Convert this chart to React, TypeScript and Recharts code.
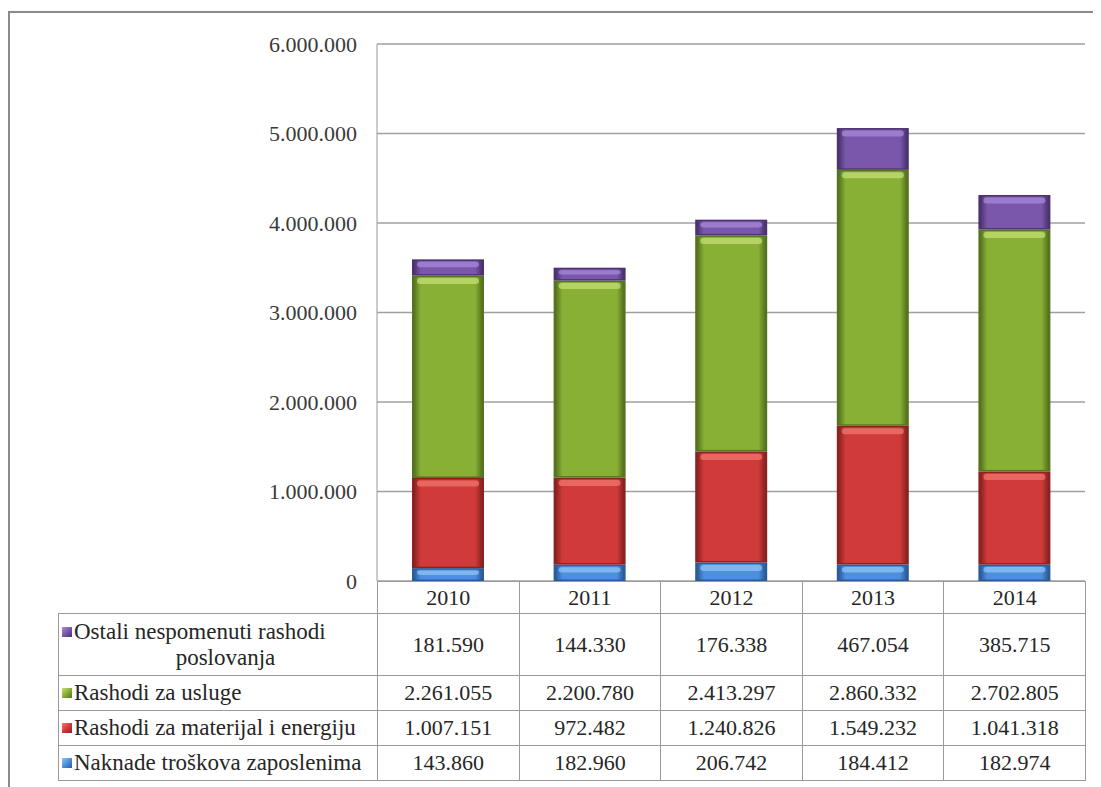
import React from "react";
import { BarChart, Bar, XAxis, YAxis, CartesianGrid } from "recharts";

const years = ["2010", "2011", "2012", "2013", "2014"];
const naknade = [143860, 182960, 206742, 184412, 182974];
const materijal = [1007151, 972482, 1240826, 1549232, 1041318];
const usluge = [2261055, 2200780, 2413297, 2860332, 2702805];
const ostali = [181590, 144330, 176338, 467054, 385715];
const yTicks = [0, 1000000, 2000000, 3000000, 4000000, 5000000, 6000000];

const seriesInfo = [
  { key: "ostali", label: "Ostali nespomenuti rashodi", label2: "poslovanja", values: ostali, main: "#7a57aa", light: "#ab8ddb", dark: "#4a3370" },
  { key: "usluge", label: "Rashodi za usluge", label2: "", values: usluge, main: "#87b035", light: "#c8e276", dark: "#56731f" },
  { key: "materijal", label: "Rashodi za materijal i energiju", label2: "", values: materijal, main: "#d03a3a", light: "#f27c72", dark: "#8a2222" },
  { key: "naknade", label: "Naknade troškova zaposlenima", label2: "", values: naknade, main: "#4d8fdc", light: "#93c6f7", dark: "#2a5c9a" },
];

const data = years.map((y, i) => ({
  year: y,
  naknade: naknade[i],
  materijal: materijal[i],
  usluge: usluge[i],
  ostali: ostali[i],
}));

const fmt = (v: number) => String(v).replace(/\B(?=(\d{3})+(?!\d))/g, ".");

const makeShape = (s: any) => (props: any) => {
  const { x, y, width, height } = props;
  if (!height || height <= 0) return null;
  const hl = Math.min(6, height / 3);
  return (
    <g>
      <rect x={x} y={y} width={width} height={height} fill={s.dark} />
      <rect x={x + 2} y={y + 1.5} width={width - 4} height={Math.max(0, height - 3)} fill={`url(#grad-${s.key})`} />
      <rect x={x + 5} y={y + 2.5} width={width - 10} height={hl} rx={3} fill={s.light} opacity={0.7} />
    </g>
  );
};

const font = "'Liberation Serif', 'DejaVu Serif', serif";
const border = "1px solid #9a9a9a";

export default function App() {
  const stackOrder = [...seriesInfo].reverse();
  return (
    <div style={{ position: "relative", width: 1093, height: 779, overflow: "hidden", background: "#fff", fontFamily: font }}>
      <div style={{ position: "absolute", left: 0, top: 3, width: 1300, height: 1000, border: "2px solid #8a8a8a", boxShadow: "1px 1px 2px #bbb" }} />
      <div style={{ position: "absolute", left: 0, top: 0 }}>
        <BarChart width={1093} height={600} data={data} margin={{ top: 36, right: 16, bottom: 27, left: 0 }} barSize={72}>
          <defs>
            {seriesInfo.map((s) => (
              <linearGradient key={s.key} id={`grad-${s.key}`} x1="0" y1="0" x2="1" y2="0">
                <stop offset="0%" stopColor={s.dark} />
                <stop offset="10%" stopColor={s.main} />
                <stop offset="50%" stopColor={s.main} />
                <stop offset="90%" stopColor={s.main} />
                <stop offset="100%" stopColor={s.dark} />
              </linearGradient>
            ))}
          </defs>
          <CartesianGrid vertical={false} stroke="#a0a0a0" strokeWidth={1.3} />
          <XAxis dataKey="year" hide />
          <YAxis
            width={369}
            domain={[0, 6000000]}
            ticks={yTicks}
            tickFormatter={fmt}
            tickLine={false}
            tickMargin={14}
            axisLine={{ stroke: "#9a9a9a" }}
            tick={{ fill: "#3a3a3a", fontSize: 22, fontFamily: font }}
          />
          {stackOrder.map((s) => (
            <Bar key={s.key} dataKey={s.key} stackId="a" fill={s.main} isAnimationActive={false} shape={makeShape(s)} />
          ))}
        </BarChart>
      </div>
      <table
        style={{
          position: "absolute",
          left: 50,
          top: 573,
          borderCollapse: "collapse",
          tableLayout: "fixed",
          width: 1027,
          fontFamily: font,
          color: "#262626",
        }}
      >
        <colgroup>
          <col style={{ width: 319 }} />
          {years.map((y) => (
            <col key={y} style={{ width: 141.6 }} />
          ))}
        </colgroup>
        <tbody>
          <tr style={{ height: 32 }}>
            <td style={{ padding: 0 }} />
            {years.map((y) => (
              <td key={y} style={{ border, textAlign: "center", fontSize: 22, padding: 0 }}>
                {y}
              </td>
            ))}
          </tr>
          {seriesInfo.map((s, ri) => (
            <tr key={s.key} style={{ height: ri === 0 ? 62 : 35 }}>
              <td style={{ border, padding: "0 0 0 3px", fontSize: 23, lineHeight: "26px", whiteSpace: "nowrap" }}>
                <div>
                  <span
                    style={{
                      display: "inline-block",
                      width: 10,
                      height: 10,
                      marginRight: 2,
                      verticalAlign: "2px",
                      background: `linear-gradient(135deg, ${s.light}, ${s.main} 50%, ${s.dark})`,
                    }}
                  />
                  {s.label}
                </div>
                {s.label2 ? <div style={{ textAlign: "center", paddingLeft: 12 }}>{s.label2}</div> : null}
              </td>
              {s.values.map((v, i) => (
                <td key={i} style={{ border, textAlign: "center", fontSize: 22, padding: 0 }}>
                  {fmt(v)}
                </td>
              ))}
            </tr>
          ))}
        </tbody>
      </table>
    </div>
  );
}
